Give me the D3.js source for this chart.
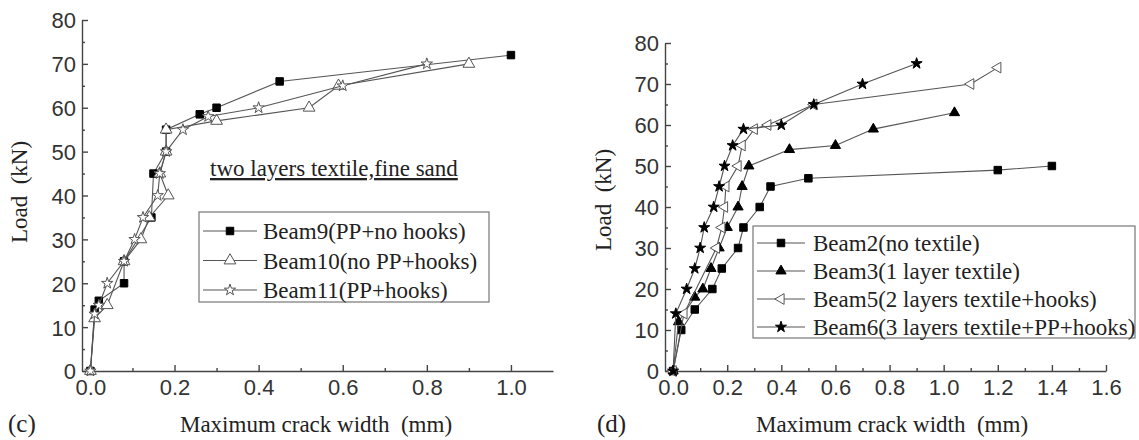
<!DOCTYPE html>
<meta charset="utf-8">
<style>
body { margin: 0; background: #fff; }
.tick-label { font-family: 'Liberation Sans', Arial, sans-serif; font-size: 22px; fill: #333; }
.title { font-family: 'Liberation Serif', 'Times New Roman', serif; font-size: 23px; fill: #222; white-space: pre; }
.legend-text { font-family: 'Liberation Serif', 'Times New Roman', serif; font-size: 23px; fill: #222; }
</style>
<div id="chart"></div>
<script src="https://d3js.org/d3.v7.min.js"></script>
<script>
// panel (c): two layers textile, fine sand
var beam9 = [[0, 0], [0.01, 14], [0.02, 16], [0.08, 20], [0.08, 25], [0.145, 35], [0.15, 45], [0.18, 50], [0.18, 55], [0.26, 58.5], [0.3, 60], [0.45, 66], [1.0, 72]]
var beam10 = [[0, 0], [0.01, 12], [0.04, 15], [0.08, 25], [0.12, 30], [0.14, 35], [0.185, 40], [0.165, 45], [0.18, 50], [0.18, 55], [0.3, 57], [0.52, 60], [0.59, 65], [0.9, 70]]
var beam11 = [[0, 0], [0.01, 13], [0.02, 15], [0.04, 20], [0.08, 25], [0.105, 30], [0.125, 35], [0.16, 40], [0.165, 45], [0.18, 50], [0.22, 55], [0.28, 58], [0.4, 60], [0.6, 65], [0.8, 70]]
var legendC = ['Beam9(PP+no hooks)', 'Beam10(no PP+hooks)', 'Beam11(PP+hooks)']

// panel (d)
var beam2 = [[0, 0], [0.03, 10], [0.08, 15], [0.145, 20], [0.18, 25], [0.24, 30], [0.26, 35], [0.32, 40], [0.36, 45], [0.5, 47], [1.2, 49], [1.4, 50]]
var beam3 = [[0, 0], [0.02, 12], [0.08, 18], [0.11, 20], [0.14, 25], [0.17, 30], [0.2, 35], [0.24, 40], [0.255, 45], [0.28, 50], [0.43, 54], [0.6, 55], [0.74, 59], [1.04, 63]]
var beam5 = [[0, 0], [0.04, 14], [0.16, 30], [0.18, 35], [0.19, 40], [0.195, 45], [0.24, 50], [0.255, 55], [0.3, 59], [0.35, 60], [0.52, 65], [1.1, 70], [1.2, 74]]
var beam6 = [[0, 0], [0.01, 14], [0.05, 20], [0.08, 25], [0.1, 30], [0.115, 35], [0.15, 40], [0.17, 45], [0.19, 50], [0.22, 55], [0.26, 59], [0.4, 60], [0.52, 65], [0.7, 70], [0.9, 75]]
var legendD = ['Beam2(no textile)', 'Beam3(1 layer textile)', 'Beam5(2 layers textile+hooks)', 'Beam6(3 layers textile+PP+hooks)']

var yTicks = [0, 10, 20, 30, 40, 50, 60, 70, 80]
var xTicksC = [0, 0.2, 0.4, 0.6, 0.8, 1.0]
var xTicksD = [0, 0.2, 0.4, 0.6, 0.8, 1.0, 1.2, 1.4, 1.6]

var svg = d3.select('#chart')
  .append('svg')
  .attr('width', 1139)
  .attr('height', 440)

function drawAxes(x, y, xTicks, xMinor) {
  var xAxis = d3.axisBottom(x).tickValues(xTicks).tickFormat(d3.format('.1f')).tickSizeInner(-6).tickSizeOuter(0).tickPadding(8)
  var yAxis = d3.axisLeft(y).tickValues(yTicks).tickSizeInner(-6).tickSizeOuter(0).tickPadding(6)
  var y0 = y.range()[0]
  var x0 = x.range()[0]

  var gx = svg.append('g').attr('transform', 'translate(0,' + y0 + ')').call(xAxis)
  var gy = svg.append('g').attr('transform', 'translate(' + x0 + ',0)').call(yAxis)

  // minor ticks, inside like the majors
  svg.append('g').attr('transform', 'translate(0,' + y0 + ')')
    .call(d3.axisBottom(x).tickValues(xMinor).tickSize(-3).tickFormat(''))
    .select('.domain').remove()
  svg.append('g').attr('transform', 'translate(' + x0 + ',0)')
    .call(d3.axisLeft(y).tickValues(d3.range(5, 80, 10)).tickSize(-3).tickFormat(''))
    .select('.domain').remove()

  svg.selectAll('.domain, .tick line').attr('stroke', '#444').attr('stroke-width', 1.4)
  gx.selectAll('text').attr('class', 'tick-label').attr('font-size', null).attr('font-family', null).attr('fill', null)
  gy.selectAll('text').attr('class', 'tick-label').attr('font-size', null).attr('font-family', null).attr('fill', null).attr('dy', '0.36em')
}

function symbolPath(type, size) {
  return d3.symbol().type(type).size(size)()
}

function drawSeries(x, y, data, m) {
  var line = d3.line().x(d => x(d[0])).y(d => y(d[1]))
  svg.append('path')
    .datum(data)
    .attr('d', line)
    .attr('fill', 'none')
    .attr('stroke', '#555')
    .attr('stroke-width', 1.1)

  svg.append('g')
    .selectAll('path')
    .data(data)
    .join('path')
    .attr('d', symbolPath(m.type, m.size))
    .attr('transform', d => 'translate(' + x(d[0]) + ',' + y(d[1]) + ') rotate(' + (m.rotate || 0) + ')')
    .attr('fill', m.fill)
    .attr('stroke', m.stroke)
    .attr('stroke-width', 1)
}

function drawLegend(box, labels, markers) {
  svg.append('rect')
    .attr('x', box.x).attr('y', box.y)
    .attr('width', box.w).attr('height', box.h)
    .attr('fill', '#fff')
    .attr('stroke', '#777')
    .attr('stroke-width', 1.2)

  labels.forEach(function(label, i) {
    var cy = box.y + box.first + i * box.step
    svg.append('line')
      .attr('x1', box.x + 4).attr('x2', box.x + box.lineW + 4)
      .attr('y1', cy).attr('y2', cy)
      .attr('stroke', '#555').attr('stroke-width', 1.1)
    var m = markers[i]
    svg.append('path')
      .attr('d', symbolPath(m.type, m.size))
      .attr('transform', 'translate(' + (box.x + 4 + box.lineW / 2) + ',' + cy + ') rotate(' + (m.rotate || 0) + ')')
      .attr('fill', m.fill)
      .attr('stroke', m.stroke)
    svg.append('text')
      .attr('class', 'legend-text')
      .attr('x', box.x + box.textX)
      .attr('y', cy)
      .attr('dy', '0.35em')
      .text(label)
  })
}

var square = { type: d3.symbolSquare, size: 56, fill: '#000', stroke: '#000' }
var triOpen = { type: d3.symbolTriangle, size: 60, fill: '#fff', stroke: '#555' }
var starOpen = { type: d3.symbolStar, size: 40, fill: '#fff', stroke: '#555' }
var triFilled = { type: d3.symbolTriangle, size: 45, fill: '#000', stroke: '#000' }
var triLeft = { type: d3.symbolTriangle, size: 50, fill: '#fff', stroke: '#555', rotate: -90 }
var starFilled = { type: d3.symbolStar, size: 38, fill: '#000', stroke: '#000' }

// ---- panel (c)
var xC = d3.scaleLinear().domain([-0.02, 1.1]).range([82, 553])
var yC = d3.scaleLinear().domain([0, 80]).range([371, 20])

drawAxes(xC, yC, xTicksC, d3.range(0.1, 1.1, 0.2))
drawSeries(xC, yC, beam9, square)
drawSeries(xC, yC, beam10, triOpen)
drawSeries(xC, yC, beam11, starOpen)

svg.append('text')
  .attr('class', 'title')
  .attr('x', 210)
  .attr('y', 176)
  .attr('text-decoration', 'underline')
  .text('two layers textile,fine sand')

drawLegend({ x: 199, y: 212, w: 290, h: 90, first: 19, step: 29.5, lineW: 54, textX: 64 }, legendC, [square, triOpen, starOpen])

svg.append('text')
  .attr('class', 'title')
  .attr('transform', 'translate(27,192) rotate(-90)')
  .attr('text-anchor', 'middle')
  .text('Load  (kN)')

svg.append('text')
  .attr('class', 'title')
  .attr('x', 316)
  .attr('y', 432)
  .attr('text-anchor', 'middle')
  .text('Maximum crack width  (mm)')

svg.append('text')
  .attr('class', 'title')
  .attr('x', 8)
  .attr('y', 432)
  .style('font-size', '25px')
  .text('(c)')

// ---- panel (d)
var xD = d3.scaleLinear().domain([-0.03, 1.6]).range([665, 1106])
var yD = d3.scaleLinear().domain([0, 80]).range([371, 43])

drawAxes(xD, yD, xTicksD, d3.range(0.1, 1.6, 0.2))
drawSeries(xD, yD, beam2, square)
drawSeries(xD, yD, beam3, triFilled)
drawSeries(xD, yD, beam5, triLeft)
drawSeries(xD, yD, beam6, starFilled)

drawLegend({ x: 753, y: 226, w: 382, h: 112, first: 17, step: 28, lineW: 48, textX: 60 }, legendD, [square, triFilled, triLeft, starFilled])

svg.append('text')
  .attr('class', 'title')
  .attr('transform', 'translate(611,200) rotate(-90)')
  .attr('text-anchor', 'middle')
  .text('Load  (kN)')

svg.append('text')
  .attr('class', 'title')
  .attr('x', 892)
  .attr('y', 432)
  .attr('text-anchor', 'middle')
  .text('Maximum crack width  (mm)')

svg.append('text')
  .attr('class', 'title')
  .attr('x', 597)
  .attr('y', 432)
  .style('font-size', '25px')
  .text('(d)')
</script>
